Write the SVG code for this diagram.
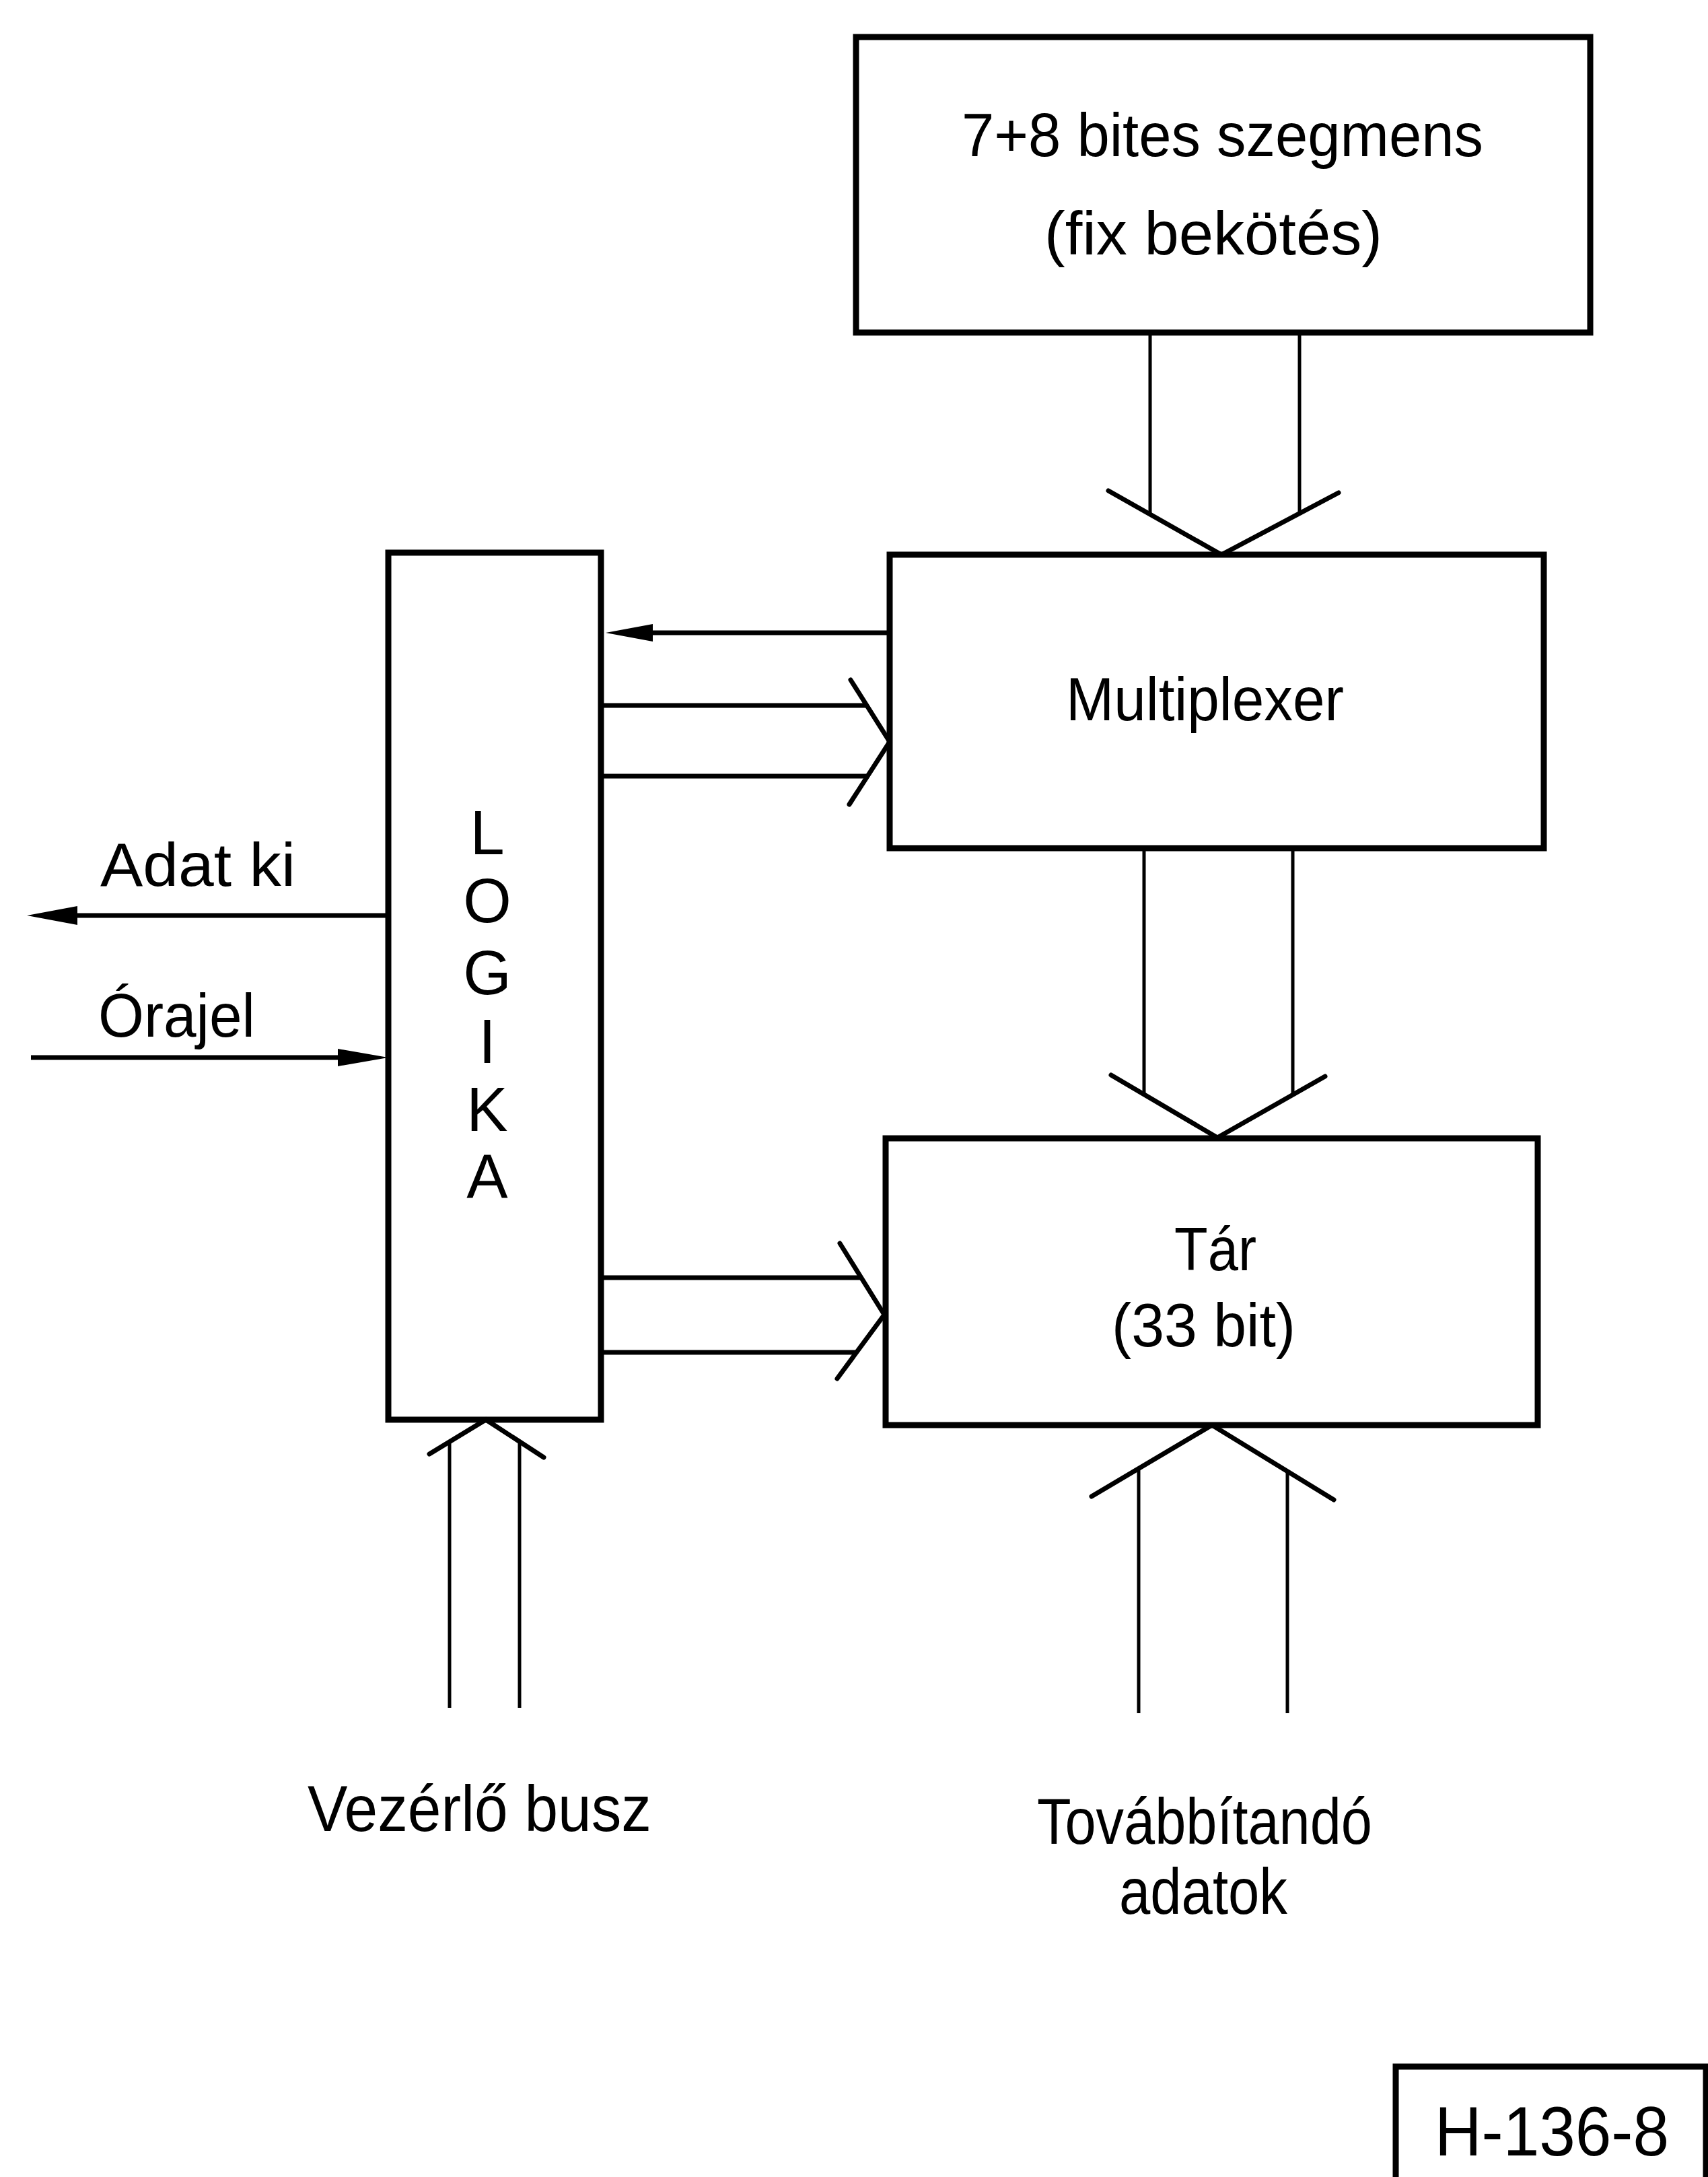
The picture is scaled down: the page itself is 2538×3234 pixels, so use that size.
<svg xmlns="http://www.w3.org/2000/svg" width="2538" height="3234" viewBox="0 0 2538 3234">
<style>
  .box { fill: none; stroke: #000; stroke-width: 9; stroke-linejoin: miter; }
  .ln { fill: none; stroke: #000; stroke-width: 7; stroke-linecap: butt; }
  .bus { fill: none; stroke: #000; stroke-width: 5; stroke-linecap: butt; }
  .head { fill: none; stroke: #000; stroke-width: 7; stroke-linecap: round; stroke-linejoin: miter; }
  .fill { fill: #000; stroke: none; }
  text { font-family: "Liberation Sans Narrow", "Liberation Sans", "DejaVu Sans", sans-serif; fill: #000; }
  .t90 { font-size: 90px; }
  .t97 { font-size: 97px; }
  .tc { text-anchor: middle; font-size: 92px; }
</style>
<rect x="0" y="0" width="2538" height="3234" fill="#fff"/>

<g id="node-szegmens">
  <rect class="box" x="1272" y="55" width="1091" height="439"/>
  <text class="t90" x="1429" y="232" textLength="775" lengthAdjust="spacingAndGlyphs">7+8 bites szegmens</text>
  <text class="t90" x="1552" y="378" textLength="502" lengthAdjust="spacingAndGlyphs">(fix bekötés)</text>
</g>

<g id="node-multiplexer">
  <rect class="box" x="1322" y="824" width="972" height="436"/>
  <text class="t90" x="1584" y="1070" textLength="413" lengthAdjust="spacingAndGlyphs">Multiplexer</text>
</g>

<g id="node-logika">
  <rect class="box" x="577" y="821" width="316" height="1288"/>
  <text class="tc" x="724" y="1269">L</text>
  <text class="tc" x="724" y="1370">O</text>
  <text class="tc" x="724" y="1477">G</text>
  <text class="tc" x="724" y="1579">I</text>
  <text class="tc" x="724" y="1680">K</text>
  <text class="tc" x="724" y="1780">A</text>
</g>

<g id="node-tar">
  <rect class="box" x="1316" y="1691" width="969" height="426"/>
  <text class="t90" x="1745" y="1887" textLength="122" lengthAdjust="spacingAndGlyphs">Tár</text>
  <text class="t90" x="1652" y="2000" textLength="273" lengthAdjust="spacingAndGlyphs">(33 bit)</text>
</g>

<g id="node-adatki">
  <text class="t90" x="149" y="1316" textLength="290" lengthAdjust="spacingAndGlyphs">Adat ki</text>
</g>
<g id="node-orajel">
  <text class="t90" x="146" y="1540" textLength="233" lengthAdjust="spacingAndGlyphs">Órajel</text>
</g>
<g id="node-vezerlo">
  <text class="t97" x="457" y="2720" textLength="511" lengthAdjust="spacingAndGlyphs">Vezérlő busz</text>
</g>
<g id="node-tovabbitando">
  <text class="t97" x="1541" y="2739" textLength="498" lengthAdjust="spacingAndGlyphs">Továbbítandó</text>
  <text class="t97" x="1663" y="2843" textLength="250" lengthAdjust="spacingAndGlyphs">adatok</text>
</g>
<g id="node-label">
  <rect class="box" x="2074" y="3070" width="461" height="220"/>
  <text x="2132" y="3202" font-size="103" textLength="348" lengthAdjust="spacingAndGlyphs">H-136-8</text>
</g>

<g id="connectors">
  <!-- szegmens -> multiplexer bus -->
  <line class="bus" x1="1709" y1="494" x2="1709" y2="764"/>
  <line class="bus" x1="1931" y1="494" x2="1931" y2="763"/>
  <polyline class="head" points="1647,729 1815,824 1989,732"/>

  <!-- multiplexer -> logika -->
  <line class="ln" x1="1322" y1="940" x2="930" y2="940"/>
  <polygon class="fill" points="900,940 970,927 970,953"/>

  <!-- logika -> multiplexer (2 lines) -->
  <line class="ln" x1="893" y1="1048" x2="1288" y2="1048"/>
  <line class="ln" x1="893" y1="1153" x2="1289" y2="1153"/>
  <polyline class="head" points="1264,1010 1322,1102 1262,1195"/>

  <!-- Adat ki -->
  <line class="ln" x1="577" y1="1360" x2="100" y2="1360"/>
  <polygon class="fill" points="40,1360 115,1346 115,1374"/>

  <!-- Órajel -->
  <line class="ln" x1="46" y1="1571" x2="520" y2="1571"/>
  <polygon class="fill" points="577,1571 502,1558 502,1584"/>

  <!-- multiplexer -> tár bus -->
  <line class="bus" x1="1700" y1="1260" x2="1700" y2="1626"/>
  <line class="bus" x1="1921" y1="1260" x2="1921" y2="1626"/>
  <polyline class="head" points="1651,1597 1809,1690 1969,1599"/>

  <!-- logika -> tár (2 lines) -->
  <line class="ln" x1="893" y1="1898" x2="1280" y2="1898"/>
  <line class="ln" x1="893" y1="2009" x2="1273" y2="2009"/>
  <polyline class="head" points="1248,1847 1314,1953 1244,2048"/>

  <!-- vezérlő busz -> logika -->
  <line class="bus" x1="668" y1="2142" x2="668" y2="2537"/>
  <line class="bus" x1="772" y1="2142" x2="772" y2="2537"/>
  <polyline class="head" points="638,2160 722,2109 808,2165"/>

  <!-- továbbítandó adatok -> tár -->
  <line class="bus" x1="1692" y1="2182" x2="1692" y2="2545"/>
  <line class="bus" x1="1913" y1="2186" x2="1913" y2="2545"/>
  <polyline class="head" points="1622,2223 1801,2117 1982,2228"/>
</g>
</svg>
